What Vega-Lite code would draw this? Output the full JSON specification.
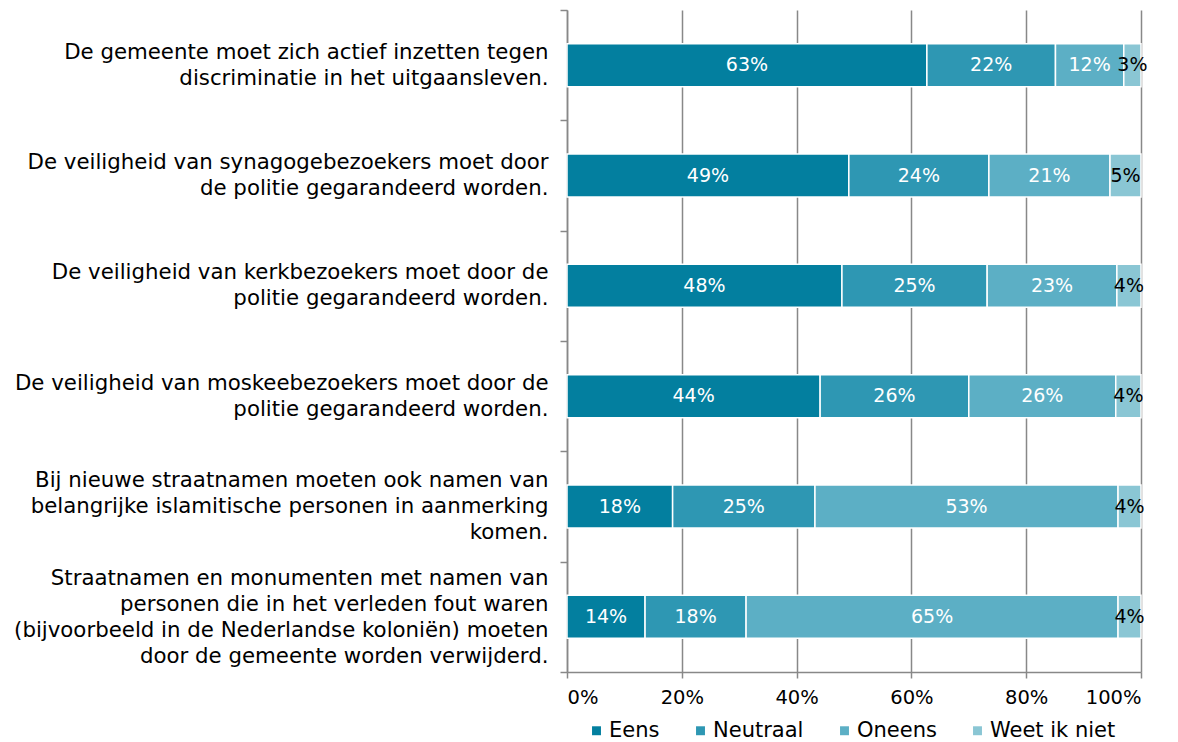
{
  "$schema": "https://vega.github.io/schema/vega-lite/v6.json",
  "autosize": "none",
  "width": 574,
  "height": 662,
  "padding": {"left": 567, "top": 10, "right": 37, "bottom": 70},
  "config": {
    "view": {"stroke": null},
    "font": "DejaVu Sans",
    "text": {"font": "DejaVu Sans"}
  },
  "data": {
    "values": [
      {"q": "De gemeente moet zich actief inzetten tegen|discriminatie in het uitgaansleven.", "qo": 1, "cat": "Eens", "co": 1, "v": 62.7},
      {"q": "De gemeente moet zich actief inzetten tegen|discriminatie in het uitgaansleven.", "qo": 1, "cat": "Neutraal", "co": 2, "v": 22.4},
      {"q": "De gemeente moet zich actief inzetten tegen|discriminatie in het uitgaansleven.", "qo": 1, "cat": "Oneens", "co": 3, "v": 11.9},
      {"q": "De gemeente moet zich actief inzetten tegen|discriminatie in het uitgaansleven.", "qo": 1, "cat": "Weet ik niet", "co": 4, "v": 3.0},
      {"q": "De veiligheid van synagogebezoekers moet door|de politie gegarandeerd worden.", "qo": 2, "cat": "Eens", "co": 1, "v": 49.1},
      {"q": "De veiligheid van synagogebezoekers moet door|de politie gegarandeerd worden.", "qo": 2, "cat": "Neutraal", "co": 2, "v": 24.4},
      {"q": "De veiligheid van synagogebezoekers moet door|de politie gegarandeerd worden.", "qo": 2, "cat": "Oneens", "co": 3, "v": 21.1},
      {"q": "De veiligheid van synagogebezoekers moet door|de politie gegarandeerd worden.", "qo": 2, "cat": "Weet ik niet", "co": 4, "v": 5.4},
      {"q": "De veiligheid van kerkbezoekers moet door de|politie gegarandeerd worden.", "qo": 3, "cat": "Eens", "co": 1, "v": 47.9},
      {"q": "De veiligheid van kerkbezoekers moet door de|politie gegarandeerd worden.", "qo": 3, "cat": "Neutraal", "co": 2, "v": 25.3},
      {"q": "De veiligheid van kerkbezoekers moet door de|politie gegarandeerd worden.", "qo": 3, "cat": "Oneens", "co": 3, "v": 22.6},
      {"q": "De veiligheid van kerkbezoekers moet door de|politie gegarandeerd worden.", "qo": 3, "cat": "Weet ik niet", "co": 4, "v": 4.2},
      {"q": "De veiligheid van moskeebezoekers moet door de|politie gegarandeerd worden.", "qo": 4, "cat": "Eens", "co": 1, "v": 44.1},
      {"q": "De veiligheid van moskeebezoekers moet door de|politie gegarandeerd worden.", "qo": 4, "cat": "Neutraal", "co": 2, "v": 25.9},
      {"q": "De veiligheid van moskeebezoekers moet door de|politie gegarandeerd worden.", "qo": 4, "cat": "Oneens", "co": 3, "v": 25.6},
      {"q": "De veiligheid van moskeebezoekers moet door de|politie gegarandeerd worden.", "qo": 4, "cat": "Weet ik niet", "co": 4, "v": 4.4},
      {"q": "Bij nieuwe straatnamen moeten ook namen van|belangrijke islamitische personen in aanmerking|komen.", "qo": 5, "cat": "Eens", "co": 1, "v": 18.4},
      {"q": "Bij nieuwe straatnamen moeten ook namen van|belangrijke islamitische personen in aanmerking|komen.", "qo": 5, "cat": "Neutraal", "co": 2, "v": 24.8},
      {"q": "Bij nieuwe straatnamen moeten ook namen van|belangrijke islamitische personen in aanmerking|komen.", "qo": 5, "cat": "Oneens", "co": 3, "v": 52.8},
      {"q": "Bij nieuwe straatnamen moeten ook namen van|belangrijke islamitische personen in aanmerking|komen.", "qo": 5, "cat": "Weet ik niet", "co": 4, "v": 4.0},
      {"q": "Straatnamen en monumenten met namen van|personen die in het verleden fout waren|(bijvoorbeeld in de Nederlandse koloniën) moeten|door de gemeente worden verwijderd.", "qo": 6, "cat": "Eens", "co": 1, "v": 13.6},
      {"q": "Straatnamen en monumenten met namen van|personen die in het verleden fout waren|(bijvoorbeeld in de Nederlandse koloniën) moeten|door de gemeente worden verwijderd.", "qo": 6, "cat": "Neutraal", "co": 2, "v": 17.6},
      {"q": "Straatnamen en monumenten met namen van|personen die in het verleden fout waren|(bijvoorbeeld in de Nederlandse koloniën) moeten|door de gemeente worden verwijderd.", "qo": 6, "cat": "Oneens", "co": 3, "v": 64.8},
      {"q": "Straatnamen en monumenten met namen van|personen die in het verleden fout waren|(bijvoorbeeld in de Nederlandse koloniën) moeten|door de gemeente worden verwijderd.", "qo": 6, "cat": "Weet ik niet", "co": 4, "v": 4.0}
    ]
  },
  "transform": [
    {"stack": "v", "groupby": ["q"], "sort": [{"field": "co"}], "as": ["v0", "v1"]},
    {"calculate": "(datum.v0 + datum.v1) / 2", "as": "mid"},
    {"calculate": "format(datum.v, '.0f') + '%'", "as": "lbl"}
  ],
  "encoding": {
    "y": {
      "field": "q", "type": "nominal",
      "sort": {"field": "qo", "op": "min"},
      "scale": {"paddingInner": 0, "paddingOuter": 0},
      "axis": {
        "title": null,
        "labelExpr": "split(datum.label, '|')",
        "labelFont": "DejaVu Sans",
        "labelFontSize": 21.3,
        "labelLineHeight": 26,
        "labelColor": "#000000",
        "labelLimit": 600,
        "labelPadding": 12,
        "labelOffset": {
          "condition": [
            {"test": "length(split(datum.value, '|')) == 4", "value": -38},
            {"test": "length(split(datum.value, '|')) == 3", "value": -26}
          ],
          "value": -13
        },
        "tickBand": "extent",
        "tickSize": 7,
        "tickColor": "#888888",
        "tickWidth": 1.5,
        "domainColor": "#888888",
        "domainWidth": 1.5,
        "grid": false
      }
    }
  },
  "layer": [
    {
      "mark": {"type": "bar", "height": 43, "stroke": "#ffffff", "strokeWidth": 1.5},
      "encoding": {
        "x": {
          "field": "v0", "type": "quantitative",
          "scale": {"domain": [0, 100], "nice": false},
          "axis": {
            "title": null,
            "values": [0, 20, 40, 60, 80, 100],
            "labelExpr": "datum.value + '%'",
            "labelFont": "DejaVu Sans",
            "labelFontSize": 19.5,
            "labelColor": "#000000",
            "labelPadding": 10,
            "tickSize": 6,
            "tickColor": "#888888",
            "tickWidth": 1.5,
            "domainColor": "#888888",
            "domainWidth": 1.5,
            "grid": true,
            "gridColor": "#888888",
            "gridWidth": 1.5,
            "gridOpacity": 1
          }
        },
        "x2": {"field": "v1"},
        "color": {
          "field": "cat", "type": "nominal",
          "sort": ["Eens", "Neutraal", "Oneens", "Weet ik niet"],
          "scale": {
            "domain": ["Eens", "Neutraal", "Oneens", "Weet ik niet"],
            "range": ["#037f9f", "#2e97b3", "#5cafc5", "#8ac6d4"]
          },
          "legend": {
            "title": null,
            "orient": "none",
            "direction": "horizontal",
            "legendX": 19,
            "legendY": 710,
            "symbolType": "square",
            "symbolSize": 80,
            "symbolStrokeWidth": 0,
            "labelFont": "DejaVu Sans",
            "labelFontSize": 21,
            "labelColor": "#000000",
            "labelOffset": 2,
            "columnPadding": 30,
            "symbolOffset": 0
          }
        }
      }
    },
    {
      "mark": {"type": "text", "fontSize": 19, "font": "DejaVu Sans"},
      "encoding": {
        "x": {"field": "mid", "type": "quantitative"},
        "text": {"field": "lbl", "type": "nominal"},
        "color": {
          "condition": {"test": "datum.cat === 'Weet ik niet'", "value": "#000000"},
          "value": "#ffffff"
        }
      }
    }
  ]
}
